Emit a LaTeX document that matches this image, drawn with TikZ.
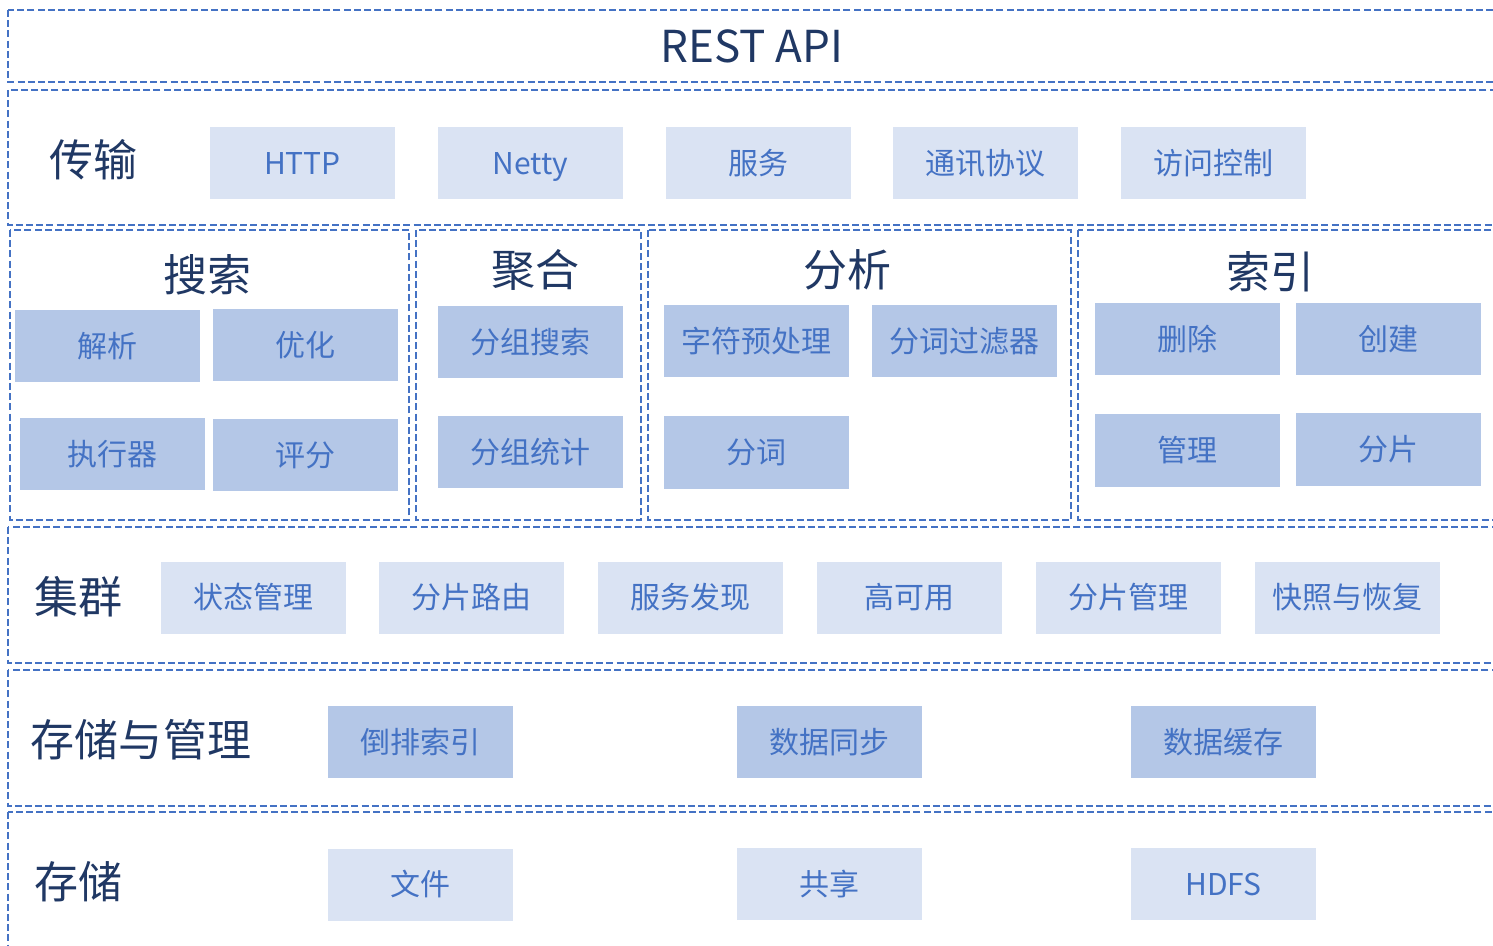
\documentclass[tikz,border=0pt]{standalone}
\usepackage{fontspec}
\setmainfont{Noto Sans CJK SC}
\usetikzlibrary{positioning}
\definecolor{framecol}{HTML}{4472C4}
\definecolor{liteblue}{HTML}{DAE3F3}
\definecolor{darkblue}{HTML}{B4C7E7}
\definecolor{boxtext}{HTML}{4472C4}
\definecolor{titlecol}{HTML}{203864}

\begin{document}
\begin{tikzpicture}[x=0.5pt, y=-0.5pt, node distance=21pt]
			\tikzstyle{frame} = [draw=framecol, line width=1pt, dash pattern=on 3.5pt off 1.6pt]
			\tikzstyle{lite} = [fill=liteblue, text=boxtext, minimum width=92.5pt, minimum height=36pt, inner sep=0pt, text height=13.2pt, text depth=1.8pt, font=\fontsize{15}{15}\selectfont]
			\tikzstyle{dark} = [lite, fill=darkblue]
			\tikzstyle{title} = [text=titlecol, inner sep=0pt, font=\fontsize{22}{22}\selectfont]
			\useasboundingbox (0,0) rectangle (1493,946);
			\clip (0,0) rectangle (1493,946);

			% layer frames
			\draw[frame] (8,10) rectangle (1520,82);
			\draw[frame] (8,90) rectangle (1520,225);
			\draw[frame] (10,230) rectangle (409,520);
			\draw[frame] (416,230) rectangle (641,520);
			\draw[frame] (648,230) rectangle (1071,520);
			\draw[frame] (1078,230) rectangle (1520,520);
			\draw[frame] (8,527) rectangle (1520,663);
			\draw[frame] (8,670) rectangle (1520,806);
			\draw[frame] (8,812) rectangle (1520,970);

			\node[title] (api) at (752,46) {REST API};

			% transport
			\node[title] (trans) at (93,160) {传输};
			\node[lite] (http) at (302.5,163.5) {HTTP};
			\node[lite, right=of http] (netty) {Netty};
			\node[lite, right=of netty] (svc) {服务};
			\node[lite, right=of svc] (proto) {通讯协议};
			\node[lite, right=of proto] (acl) {访问控制};

			% search
			\node[title] (search) at (207,275) {搜索};
			\node[dark] (parse) at (107.5,346) {解析};
			\node[dark] (optim) at (305.5,345.5) {优化};
			\node[dark] (exec) at (112.5,454) {执行器};
			\node[dark] (score) at (305.5,455) {评分};

			% aggregation
			\node[title] (aggr) at (535,270) {聚合};
			\node[dark] (gsearch) at (530,342) {分组搜索};
			\node[dark] (gstat) at (530,452) {分组统计};

			% analysis
			\node[title] (anal) at (847,270) {分析};
			\node[dark] (prep) at (756.5,341) {字符预处理};
			\node[dark] (filt) at (964,341) {分词过滤器};
			\node[dark] (token) at (756.5,452.5) {分词};

			% index
			\node[title] (index) at (1270,272) {索引};
			\node[dark] (del) at (1187,339) {删除};
			\node[dark] (create) at (1388.5,339) {创建};
			\node[dark] (manage) at (1187,450.5) {管理};
			\node[dark] (shard) at (1388.5,449.5) {分片};

			% cluster
			\node[title] (cluster) at (78,597) {集群};
			\node[lite] (state) at (253,597.5) {状态管理};
			\node[lite, right=16.5pt of state] (route) {分片路由};
			\node[lite, right=16.5pt of route] (disc) {服务发现};
			\node[lite, right=16.5pt of disc] (ha) {高可用};
			\node[lite, right=16.5pt of ha] (smgr) {分片管理};
			\node[lite, right=16.5pt of smgr] (snap) {快照与恢复};

			% storage and management
			\node[title] (stmgr) at (141,740) {存储与管理};
			\node[dark] (inv) at (420,742) {倒排索引};
			\node[dark] (sync) at (829.5,742) {数据同步};
			\node[dark] (cache) at (1223.5,742) {数据缓存};

			% storage
			\node[title] (store) at (78,882) {存储};
			\node[lite] (file) at (420,884.5) {文件};
			\node[lite] (share) at (829.5,884) {共享};
			\node[lite] (hdfs) at (1223.5,884) {HDFS};
\end{tikzpicture}
\end{document}
